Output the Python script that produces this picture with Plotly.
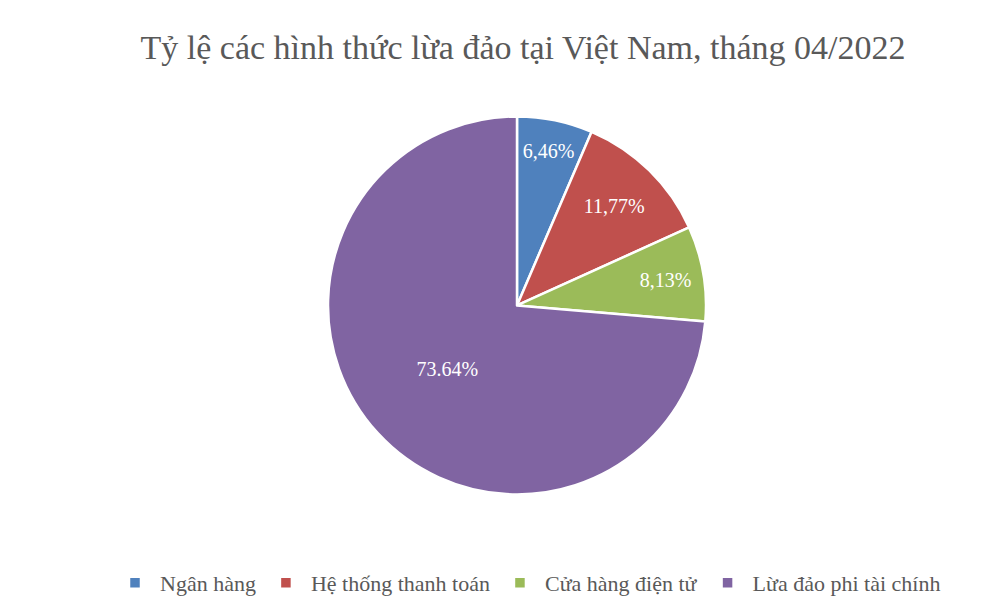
import plotly.graph_objects as go

labels = ["Ngân hàng", "Hệ thống thanh toán", "Cửa hàng điện tử", "Lừa đảo phi tài chính"]
values = [6.46, 11.77, 8.13, 73.64]
text_labels = ["6,46%", "11,77%", "8,13%", "73.64%"]
colors = ["#4F81BD", "#C0504D", "#9BBB59", "#8064A2"]

fig = go.Figure(go.Pie(
    labels=labels, values=values, text=text_labels,
    textinfo="text", textposition="inside", insidetextorientation="horizontal",
    textfont=dict(color="white", size=20, family="Liberation Serif"),
    marker=dict(colors=colors, line=dict(color="white", width=2.5)),
    sort=False, direction="clockwise", rotation=0,
    domain=dict(x=[0.32, 0.698], y=[0.188, 0.819]),
))
fig.update_layout(
    width=1000, height=599,
    margin=dict(l=0, r=0, t=0, b=0),
    paper_bgcolor="white",
    font=dict(family="Liberation Serif", color="#595959"),
    title=dict(text="Tỷ lệ các hình thức lừa đảo tại Việt Nam, tháng 04/2022",
               x=0.515, y=0.935, xanchor="center", yanchor="middle",
               font=dict(size=34, color="#595959")),
    legend=dict(orientation="h", x=0.52, xanchor="center", y=0.04, yanchor="middle",
                itemwidth=40, font=dict(size=22, color="#595959")),
)
fig.write_html("out.html")
